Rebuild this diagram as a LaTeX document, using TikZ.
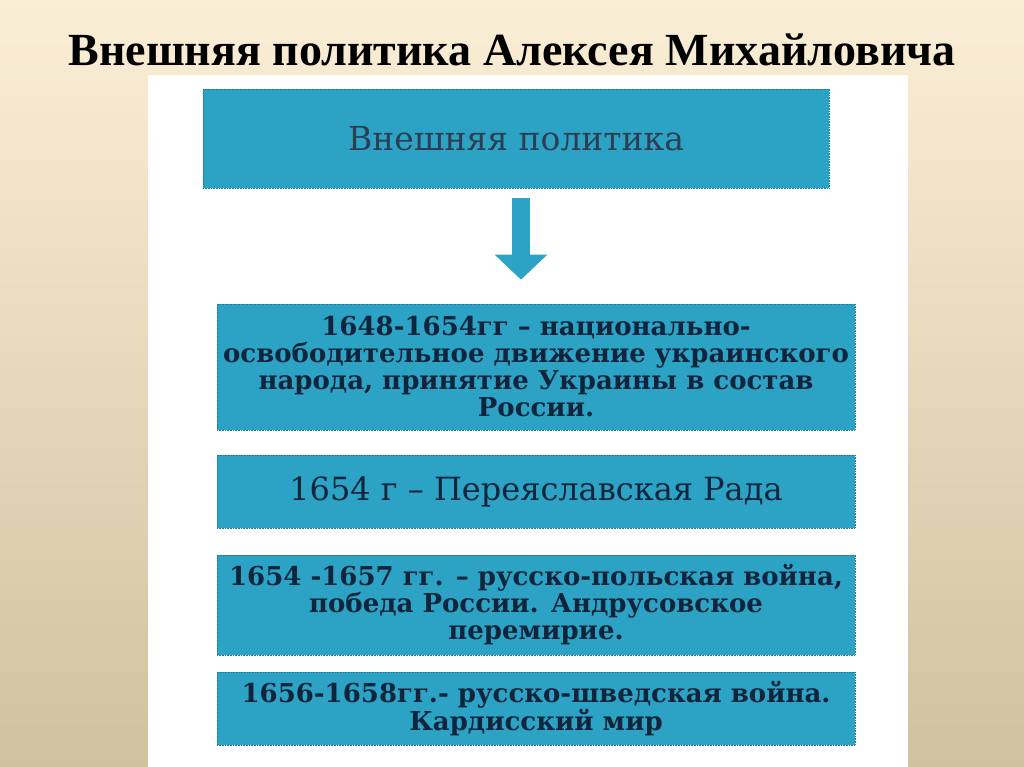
\documentclass[tikz,border=0pt]{standalone}
\usepackage{fontspec}
\setmainfont{Liberation Serif}
\newfontfamily\boxfont{DejaVu Serif}
\usetikzlibrary{arrows.meta}
\definecolor{teal box}{RGB}{44,163,196}
\definecolor{teal line}{RGB}{30,120,150}
\definecolor{ink}{RGB}{16,36,60}
\definecolor{paper top}{RGB}{250,238,214}
\definecolor{paper mid}{RGB}{240,234,216}
\definecolor{paper low}{RGB}{208,194,158}
\begin{document}
\begin{tikzpicture}
[
    x=1pt, y=-1pt,
    box/.style={fill=teal box, draw=teal line, densely dotted, line width=0.6pt,
        text=ink, align=center, inner sep=0pt},
    wide box/.style={box, minimum width=638pt},
    bold text/.style={font=\boxfont\fontsize{26}{27}\selectfont\bfseries},
]
\useasboundingbox (0,0) rectangle (1024,767);
\shade[top color=paper top, middle color=paper mid, bottom color=paper low] (0,0) rectangle (1024,767);
\node (title) at (512,50) {\fontsize{46}{50}\selectfont\bfseries Внешняя политика Алексея Михайловича};
\fill[white] (148,75) rectangle (908,767);
\node[box, minimum width=626pt, minimum height=99pt,
    font=\boxfont\fontsize{33}{34}\selectfont, text=ink!88] (policy) at (516,138.5) {Внешняя политика};
\node[wide box, minimum height=126pt, bold text] (ukraine) at (536,367)
    {1648-1654гг – национально-\\освободительное движение украинского\\народа, принятие Украины в состав\\России.};
\node[wide box, minimum height=73pt, font=\boxfont\fontsize{32}{33}\selectfont] (rada) at (536,491.5)
    {1654 г – Переяславская Рада};
\node[wide box, minimum height=100pt, bold text] (poland) at (536,605)
    {1654 -1657 гг. – русско-польская война,\\победа России. Андрусовское\\перемирие.};
\node[wide box, minimum height=73pt, bold text] (sweden) at (536,708.5)
    {1656-1658гг.- русско-шведская война.\\Кардисский мир};
\coordinate (ax) at (521,0);
\draw[teal box, line width=18pt, shorten <=10pt, shorten >=24pt,
    -{Triangle[width=51pt, length=25pt]}] (policy.south -| ax) -- (ukraine.north -| ax);
\end{tikzpicture}
\end{document}
